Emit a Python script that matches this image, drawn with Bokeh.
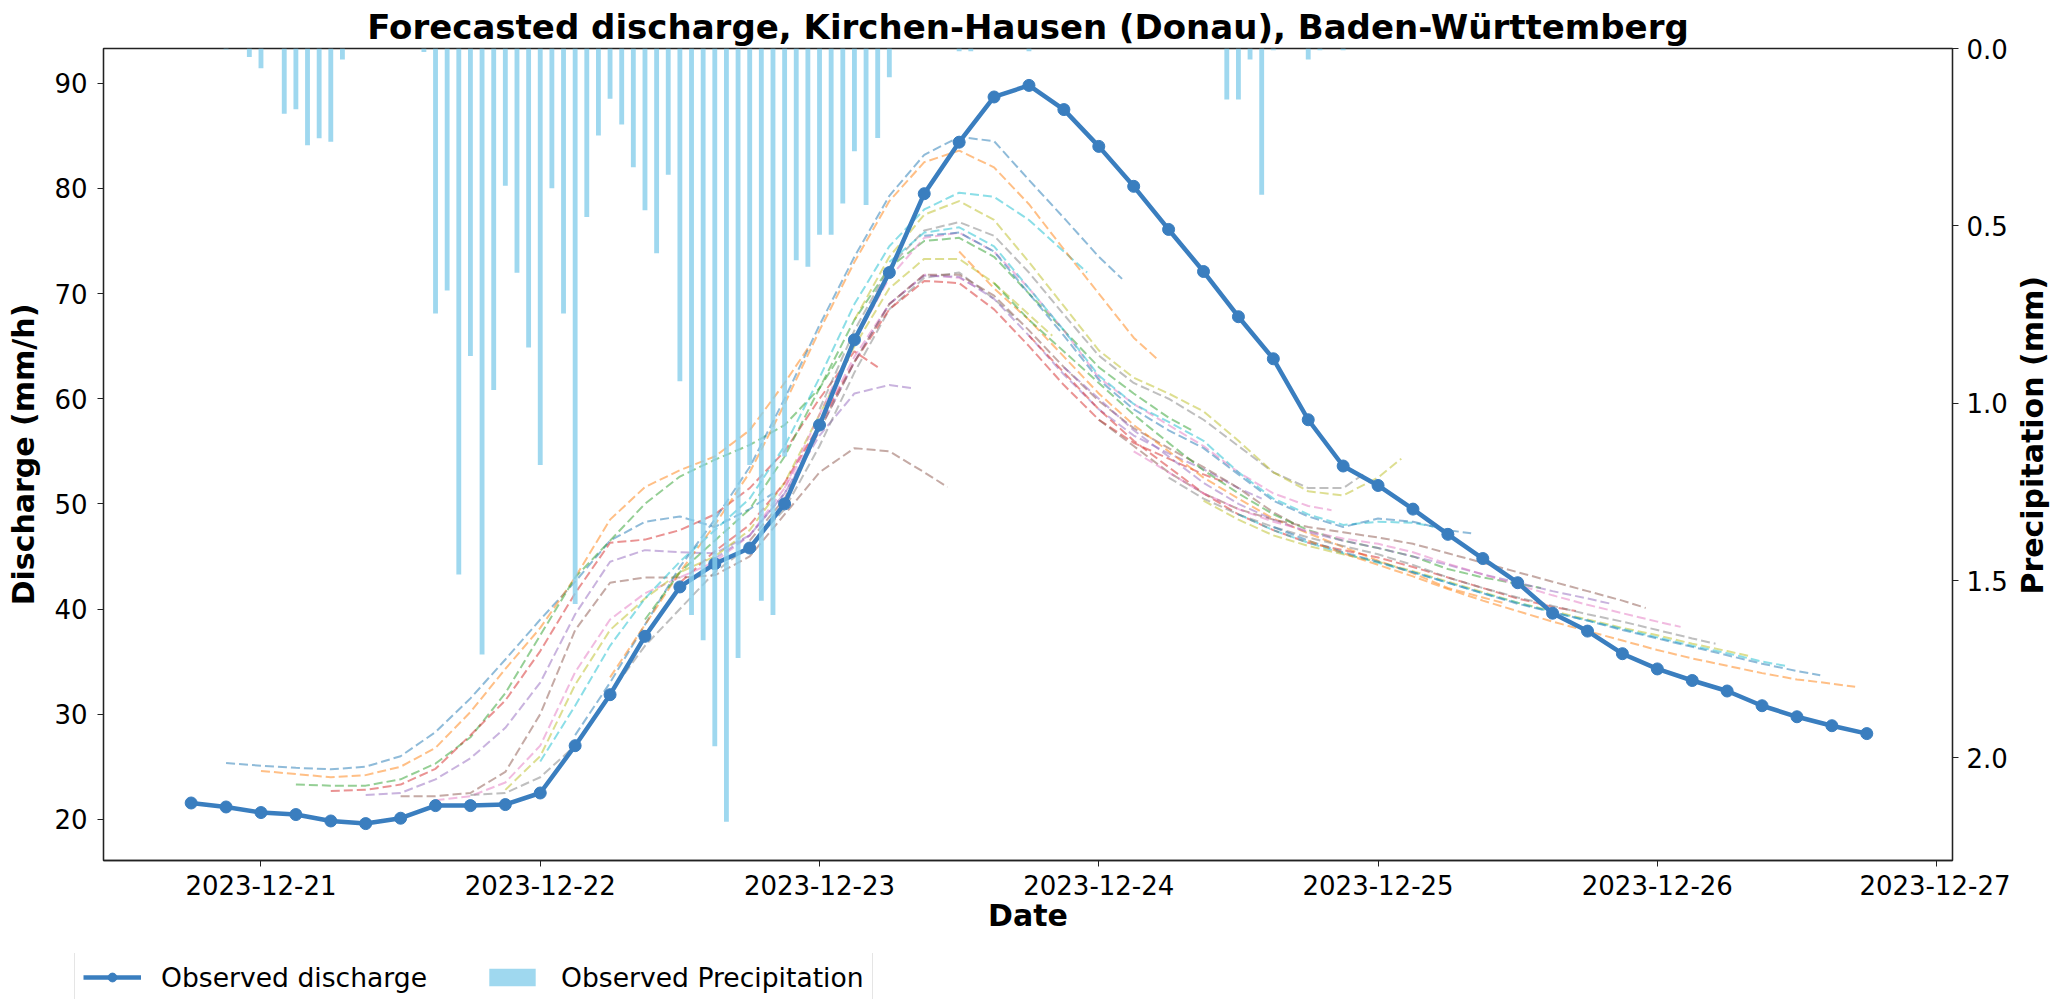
import math
import pandas as pd
from bokeh.plotting import figure
from bokeh.layouts import column, row
from bokeh.models import (Range1d, LinearAxis, FixedTicker, DatetimeTickFormatter,
                          NumeralTickFormatter, Legend, LegendItem, Label)
from bokeh.embed import file_html
from bokeh.resources import INLINE

# ---------------- data ----------------
TITLE = "Forecasted discharge, Kirchen-Hausen (Donau), Baden-Württemberg"
X_LIMITS = ["2023-12-20 10:28", "2023-12-27 01:22"]
Y_LIMITS = [16.08, 93.31]
PRECIP_LIMITS = [2.289, 0.0]          # inverted secondary axis
DATE_TICKS = ["2023-12-21", "2023-12-22", "2023-12-23", "2023-12-24",
              "2023-12-25", "2023-12-26", "2023-12-27"]
DISCHARGE_TICKS = [20, 30, 40, 50, 60, 70, 80, 90]
PRECIP_TICKS = [0.0, 0.5, 1.0, 1.5, 2.0]

obs_start = "2023-12-20 18:00"
obs_step_hours = 3
observed_discharge = [21.55, 21.17, 20.64, 20.45, 19.84, 19.59, 20.1, 21.3, 21.3, 21.4,
                      22.5, 27.0, 31.85, 37.4, 42.1, 44.3, 45.8, 50.0, 57.5, 65.6,
                      72.0, 79.5, 84.4, 88.7, 89.8, 87.5, 84.0, 80.2, 76.1, 72.1,
                      67.8, 63.8, 58.0, 53.6, 51.75, 49.5, 47.1, 44.8, 42.5, 39.6,
                      37.9, 35.75, 34.3, 33.2, 32.2, 30.8, 29.75, 28.9, 28.15]

precip_times = ["2023-12-20 21:00", "2023-12-20 23:00", "2023-12-21 00:00", "2023-12-21 02:00",
                "2023-12-21 03:00", "2023-12-21 04:00", "2023-12-21 05:00", "2023-12-21 06:00",
                "2023-12-21 07:00", "2023-12-21 14:00", "2023-12-21 15:00", "2023-12-21 16:00",
                "2023-12-21 17:00", "2023-12-21 18:00", "2023-12-21 19:00", "2023-12-21 20:00",
                "2023-12-21 21:00", "2023-12-21 22:00", "2023-12-21 23:00", "2023-12-22 00:00",
                "2023-12-22 01:00", "2023-12-22 02:00", "2023-12-22 03:00", "2023-12-22 04:00",
                "2023-12-22 05:00", "2023-12-22 06:00", "2023-12-22 07:00", "2023-12-22 08:00",
                "2023-12-22 09:00", "2023-12-22 10:00", "2023-12-22 11:00", "2023-12-22 12:00",
                "2023-12-22 13:00", "2023-12-22 14:00", "2023-12-22 15:00", "2023-12-22 16:00",
                "2023-12-22 17:00", "2023-12-22 18:00", "2023-12-22 19:00", "2023-12-22 20:00",
                "2023-12-22 21:00", "2023-12-22 22:00", "2023-12-22 23:00", "2023-12-23 00:00",
                "2023-12-23 01:00", "2023-12-23 02:00", "2023-12-23 03:00", "2023-12-23 04:00",
                "2023-12-23 05:00", "2023-12-23 06:00", "2023-12-23 12:00", "2023-12-23 13:00",
                "2023-12-23 18:00", "2023-12-24 11:00", "2023-12-24 12:00", "2023-12-24 13:00",
                "2023-12-24 14:00", "2023-12-24 15:00", "2023-12-24 18:00", "2023-12-24 19:00",
                "2023-12-24 21:00"]
precip_mm = [0.003, 0.024, 0.056, 0.184,
             0.171, 0.273, 0.253, 0.263,
             0.031, 0.010, 0.747, 0.682,
             1.483, 0.867, 1.708, 0.963,
             0.387, 0.632, 0.843, 1.174,
             0.394, 0.747, 1.566, 0.475,
             0.245, 0.142, 0.214, 0.335,
             0.456, 0.577, 0.356, 0.938,
             1.597, 1.668, 1.967, 2.180,
             1.718, 1.174, 1.557, 1.597,
             1.150, 0.597, 0.615, 0.525,
             0.525, 0.437, 0.290, 0.441,
             0.252, 0.081, 0.008, 0.008,
             0.008, 0.144, 0.144, 0.031,
             0.412, 0.005, 0.031, 0.005,
             0.005]

# forecasts: issued every 3 h from the first issue time, values at these lead hours
forecast_first_issue = "2023-12-20 21:00"
forecast_issue_step_hours = 3
forecast_lead_hours = [0, 3, 6, 9, 12, 15, 18, 21, 24, 27, 30, 33, 36, 39, 42, 45, 47]

fc_01 = [25.35, 25.1, 24.9, 24.75, 25.0, 26.0, 28.3, 31.5, 35.2, 39.0, 42.6, 46.5, 48.3, 48.8, 47.8, 49.5, 51.0]
fc_02 = [24.6, 24.3, 24.0, 24.2, 25.0, 26.8, 30.2, 34.3, 38.2, 43.0, 48.5, 51.6, 53.2, 54.5, 57.0, 61.5, 64.8]
fc_03 = [23.3, 23.2, 23.2, 23.8, 25.3, 27.8, 32.0, 37.5, 43.0, 46.5, 50.0, 52.6, 54.2, 55.6, 57.5, 61.0, 64.5]
fc_04 = [22.7, 22.8, 23.3, 24.8, 28.0, 31.3, 36.0, 41.5, 46.3, 46.6, 47.5, 49.0, 51.5, 55.0, 60.0, 64.5, 63.0]
fc_05 = [22.3, 22.5, 23.8, 25.8, 28.7, 33.0, 39.5, 44.5, 45.6, 45.4, 45.3, 47.0, 51.0, 56.5, 60.5, 61.3, 61.0]
fc_06 = [22.2, 22.2, 22.5, 24.5, 30.0, 38.0, 42.5, 43.0, 43.0, 43.2, 45.0, 49.0, 53.0, 55.3, 55.0, 53.0, 51.6]
fc_07 = [21.8, 22.2, 23.5, 27.0, 34.0, 39.0, 41.5, 43.0, 44.5, 47.0, 51.5, 57.5, 64.0, 69.0, 71.8, 71.5, 70.3]
fc_08 = [22.3, 22.5, 24.0, 27.0, 32.0, 36.5, 40.0, 43.5, 46.0, 49.5, 55.5, 62.5, 68.5, 71.5, 72.0, 69.5, 67.5]
fc_09 = [22.8, 26.0, 32.8, 38.0, 41.0, 43.5, 45.0, 47.5, 52.0, 58.5, 65.0, 70.5, 73.3, 73.3, 71.0, 68.0, 66.0]
fc_10 = [25.5, 30.8, 36.5, 41.0, 44.5, 47.5, 50.5, 55.5, 62.0, 69.0, 74.5, 78.0, 79.6, 79.2, 77.0, 74.0, 72.0]
fc_11 = [28.0, 33.0, 38.5, 44.0, 48.5, 53.5, 60.0, 67.0, 73.5, 79.3, 83.2, 84.9, 84.5, 80.8, 77.2, 73.5, 71.4]
fc_12 = [33.5, 38.5, 43.5, 48.0, 53.0, 59.5, 66.5, 73.0, 78.8, 82.5, 83.6, 82.0, 78.5, 74.2, 70.0, 65.8, 63.8]
fc_13 = [39.0, 43.5, 46.5, 49.5, 54.5, 61.0, 67.5, 72.5, 75.0, 75.3, 73.5, 70.0, 66.5, 63.0, 60.5, 58.2, 57.0]
fc_14 = [42.5, 45.5, 48.0, 52.0, 57.5, 63.5, 68.5, 71.2, 71.0, 68.5, 65.0, 61.3, 58.0, 55.8, 54.3, 52.8, 52.0]
fc_15 = [44.8, 47.0, 51.0, 57.0, 63.5, 69.0, 71.7, 71.6, 69.5, 66.0, 62.3, 59.0, 56.5, 54.8, 53.3, 51.5, 50.5]
fc_16 = [46.5, 50.5, 57.0, 63.5, 69.0, 71.8, 71.8, 69.8, 66.5, 63.0, 59.8, 57.2, 55.3, 53.5, 51.5, 49.2, 48.0]
fc_17 = [51.5, 58.5, 65.5, 71.5, 75.3, 75.8, 74.0, 70.5, 66.5, 62.0, 59.5, 57.5, 55.5, 53.0, 51.0, 49.8, 49.4]
fc_18 = [59.0, 66.5, 72.5, 76.0, 76.8, 75.5, 72.0, 68.0, 64.1, 61.5, 60.0, 58.0, 55.5, 53.0, 51.5, 51.5, 53.0]
fc_19 = [67.5, 73.5, 77.5, 78.8, 77.0, 73.0, 68.8, 64.6, 62.0, 60.5, 58.8, 56.0, 53.0, 51.2, 50.8, 52.5, 54.3]
fc_20 = [73.0, 75.8, 76.3, 74.5, 70.5, 66.5, 62.2, 59.5, 57.8, 56.0, 53.0, 50.5, 49.0, 48.0, 48.3, 48.2, 47.8]
fc_21 = [75.5, 75.8, 74.0, 70.0, 66.0, 61.8, 59.0, 57.0, 55.3, 52.8, 50.3, 48.8, 47.8, 48.6, 48.3, 47.5, 47.2]
fc_22 = [74.0, 70.5, 67.5, 64.0, 60.5, 57.5, 55.0, 52.5, 50.5, 48.6, 47.2, 45.9, 44.6, 43.4, 42.0, 41.1, 40.5]
fc_23 = [71.0, 67.5, 64.5, 61.5, 58.5, 55.8, 53.2, 51.0, 49.0, 47.5, 46.5, 45.8, 45.0, 43.8, 43.0, 42.4, 42.0]
fc_24 = [66.0, 62.5, 59.0, 56.0, 53.5, 51.0, 49.0, 47.5, 46.3, 45.6, 44.9, 44.0, 43.0, 42.0, 41.0, 40.2, 39.8]
fc_25 = [63.0, 60.0, 57.0, 54.5, 52.0, 50.0, 48.5, 47.3, 46.5, 45.8, 45.0, 44.2, 43.3, 42.5, 41.7, 41.0, 40.5]
fc_26 = [58.0, 55.5, 53.0, 51.0, 49.5, 48.5, 47.8, 47.3, 46.8, 46.2, 45.3, 44.4, 43.5, 42.6, 41.7, 40.8, 40.1]
fc_27 = [55.0, 53.0, 51.0, 49.5, 48.3, 47.4, 46.7, 46.2, 45.4, 44.3, 43.3, 42.3, 41.3, 40.4, 39.6, 38.8, 38.3]
fc_28 = [52.5, 50.5, 49.0, 47.8, 46.8, 46.0, 45.2, 44.2, 43.0, 42.0, 41.1, 40.3, 39.5, 38.8, 38.0, 37.2, 36.7]
fc_29 = [50.3, 48.5, 47.0, 46.0, 45.2, 44.5, 43.6, 42.6, 41.6, 40.6, 39.8, 39.0, 38.2, 37.5, 36.7, 36.0, 35.5]
fc_30 = [49.0, 47.5, 46.3, 45.3, 44.4, 43.5, 42.5, 41.5, 40.6, 39.7, 38.9, 38.1, 37.3, 36.5, 35.8, 35.0, 34.6]
fc_31 = [47.8, 46.5, 45.4, 44.5, 43.5, 42.5, 41.5, 40.5, 39.7, 38.9, 38.0, 37.2, 36.4, 35.6, 34.8, 34.1, 33.7]
fc_32 = [46.5, 45.3, 44.2, 43.1, 41.9, 40.8, 39.8, 38.8, 37.9, 37.0, 36.1, 35.3, 34.6, 33.9, 33.3, 32.9, 32.6]

forecasts = [fc_01, fc_02, fc_03, fc_04, fc_05, fc_06, fc_07, fc_08, fc_09, fc_10,
             fc_11, fc_12, fc_13, fc_14, fc_15, fc_16, fc_17, fc_18, fc_19, fc_20,
             fc_21, fc_22, fc_23, fc_24, fc_25, fc_26, fc_27, fc_28, fc_29, fc_30,
             fc_31, fc_32]

TAB10 = ["#1f77b4", "#ff7f0e", "#2ca02c", "#d62728", "#9467bd",
         "#8c564b", "#e377c2", "#7f7f7f", "#bcbd22", "#17becf"]
OBS_COLOR = "#3a7ebf"
PRECIP_COLOR = "#87ceeb"
FONT = "DejaVu Sans"
NAN = float("nan")

# ---------------- main figure ----------------
def ms(t):
    return pd.Timestamp(t).value // 10**6

MAIN_W, MAIN_H = 2010, 953
p = figure(width=MAIN_W, height=MAIN_H, x_axis_type="datetime",
           output_backend="svg", toolbar_location=None,
           x_range=Range1d(ms(X_LIMITS[0]), ms(X_LIMITS[1])),
           y_range=Range1d(Y_LIMITS[0], Y_LIMITS[1]),
           min_border_left=103, min_border_right=53,
           min_border_top=48, min_border_bottom=93)
p.extra_y_ranges = {"precip": Range1d(PRECIP_LIMITS[0], PRECIP_LIMITS[1])}
p.background_fill_color = "white"
p.border_fill_color = "white"
p.outline_line_color = "#222222"
p.outline_line_width = 1.3
p.xgrid.visible = False
p.ygrid.visible = False

p.title.text = TITLE
p.title.align = "center"
p.title.text_font = FONT
p.title.text_font_size = "34px"
p.title.text_font_style = "bold"
p.title.text_color = "black"
p.title.standoff = 4

# forecasts
for i, vals in enumerate(forecasts):
    issue = pd.Timestamp(forecast_first_issue) + pd.Timedelta(hours=forecast_issue_step_hours * i)
    xs = [issue + pd.Timedelta(hours=h) for h in forecast_lead_hours]
    p.line(xs, vals, color=TAB10[i % 10], alpha=0.5, line_width=2, line_dash="9 4")

# observed discharge
obs_times = [pd.Timestamp(obs_start) + pd.Timedelta(hours=obs_step_hours * k)
             for k in range(len(observed_discharge))]
p.line(obs_times, observed_discharge, color=OBS_COLOR, line_width=4.5)
p.scatter(obs_times, observed_discharge, color=OBS_COLOR, size=12)

# precipitation bars (drawn on top, hanging from the inverted secondary axis)
bar_times = [pd.Timestamp(t) for t in precip_times]
p.vbar(x=bar_times, width=25 * 60 * 1000, top=[0.0] * len(precip_mm), bottom=precip_mm,
       y_range_name="precip", fill_color=PRECIP_COLOR, fill_alpha=0.8, line_color=None)

# axes
p.xaxis.ticker = FixedTicker(ticks=[ms(d) for d in DATE_TICKS])
fmt = "%Y-%m-%d"
p.xaxis.formatter = DatetimeTickFormatter(milliseconds=fmt, seconds=fmt, minsec=fmt, minutes=fmt,
                                          hourmin=fmt, hours=fmt, days=fmt, months=fmt, years=fmt)
p.xaxis.axis_label = "Date"
p.yaxis.ticker = FixedTicker(ticks=DISCHARGE_TICKS)
p.yaxis.axis_label = "Discharge (mm/h)"

right = LinearAxis(y_range_name="precip")
right.ticker = FixedTicker(ticks=PRECIP_TICKS)
right.formatter = NumeralTickFormatter(format="0.0")
p.add_layout(right, "right")

for ax in [p.xaxis[0], p.yaxis[0], right]:
    ax.major_label_text_font = FONT
    ax.major_label_text_font_size = "26px"
    ax.major_label_text_color = "black"
    ax.axis_label_text_font = FONT
    ax.axis_label_text_font_size = "30px"
    ax.axis_label_text_font_style = "bold"
    ax.axis_label_text_color = "black"
    ax.major_tick_out = 6
    ax.major_tick_in = 0
    ax.minor_tick_out = 0
    ax.minor_tick_in = 0
    ax.axis_line_color = "#222222"
    ax.major_tick_line_color = "#222222"
    ax.axis_line_width = 1.3

p.xaxis.major_label_standoff = 8
p.xaxis.axis_label_standoff = 0
p.yaxis.major_label_standoff = 10
p.yaxis.axis_label_standoff = 10
right.major_label_standoff = 8

# ---------------- right-hand axis title strip (reads upwards) ----------------
STRIP_W = 2057 - MAIN_W
strip = figure(width=STRIP_W, height=MAIN_H, output_backend="svg", toolbar_location=None,
               x_range=Range1d(0, STRIP_W), y_range=Range1d(0, MAIN_H),
               x_axis_location=None, y_axis_location=None,
               min_border_left=0, min_border_right=0, min_border_top=0, min_border_bottom=0)
strip.outline_line_color = None
strip.grid.visible = False
strip.add_layout(Label(x=22, y=MAIN_H - 454, text="Precipitation (mm)", angle=math.pi / 2,
                       text_align="center", text_baseline="middle", text_font=FONT,
                       text_font_size="30px", text_font_style="bold", text_color="black"))

# ---------------- legend strip below ----------------
LEG_H = 999 - MAIN_H
leg_fig = figure(width=2057, height=LEG_H, output_backend="svg", toolbar_location=None,
                 x_range=Range1d(0, 2057), y_range=Range1d(0, LEG_H),
                 x_axis_location=None, y_axis_location=None,
                 min_border_left=0, min_border_right=0, min_border_top=0, min_border_bottom=0)
leg_fig.outline_line_color = None
leg_fig.grid.visible = False
# legend proxies (no visible data)
k_line = leg_fig.line(x=[NAN], y=[NAN], color=OBS_COLOR, line_width=4.5)
k_pts = leg_fig.scatter(x=[NAN], y=[NAN], color=OBS_COLOR, size=12)
k_bar = leg_fig.vbar(x=[NAN], width=1, top=[NAN], bottom=[NAN], fill_color=PRECIP_COLOR,
                     fill_alpha=0.8, line_color=None)
legend = Legend(items=[LegendItem(label="Observed discharge", renderers=[k_line, k_pts]),
                       LegendItem(label="Observed Precipitation", renderers=[k_bar])],
                orientation="horizontal", location=(74, -4))
legend.label_text_font = FONT
legend.label_text_font_size = "26.6px"
legend.label_text_color = "black"
legend.glyph_width = 58
legend.glyph_height = 22
legend.label_height = 34
legend.label_standoff = 20
legend.spacing = 56
legend.padding = 8
legend.margin = 0
legend.border_line_color = "#cccccc"
legend.border_line_width = 1.5
legend.background_fill_color = "white"
legend.background_fill_alpha = 1.0
leg_fig.add_layout(legend)

layout = column(row(p, strip, spacing=0), leg_fig, spacing=0)
open("out.html", "w").write(file_html(layout, INLINE))
